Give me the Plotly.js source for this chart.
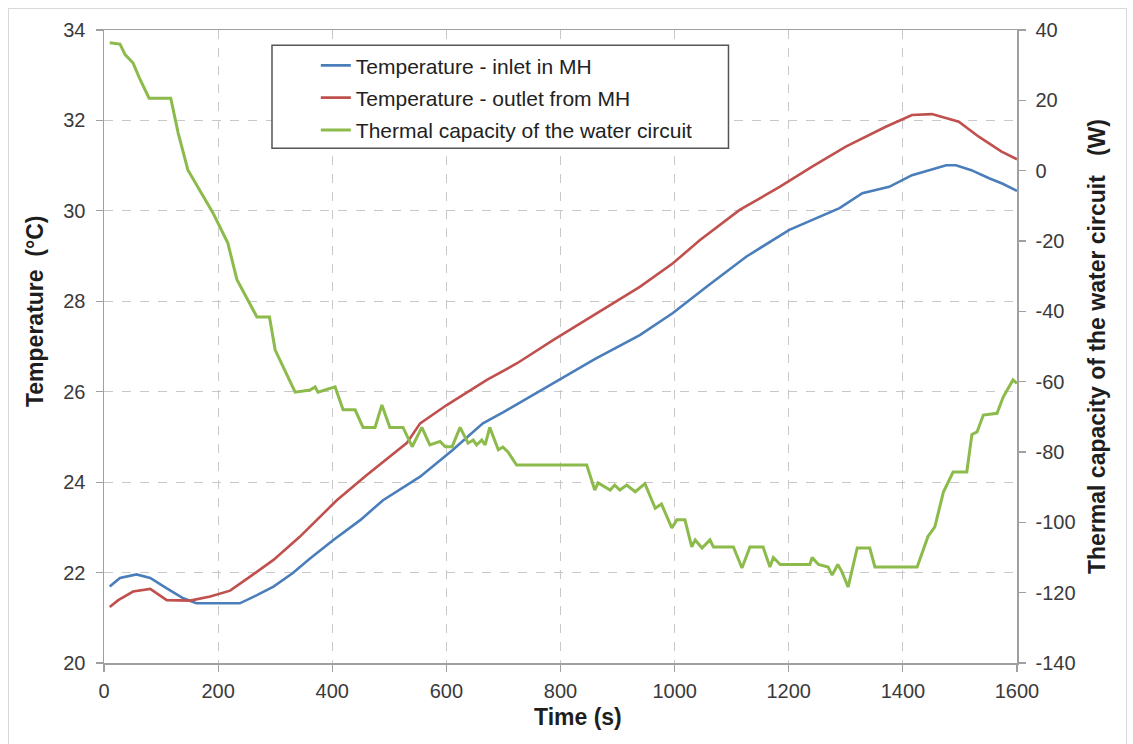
<!DOCTYPE html>
<html>
<head>
<meta charset="utf-8">
<script src="https://cdn.plot.ly/plotly-3.0.1.min.js"></script>
<style>
  html, body { margin: 0; padding: 0; background: #ffffff; }
  #wrap { position: relative; width: 1133px; height: 744px; }
  #chart { width: 1133px; height: 744px; }
  #frame { position: absolute; left: 8px; top: 8px; width: 1117px; height: 735px;
           border: 1px solid #d9d9d9; border-bottom: none; pointer-events: none; }
</style>
</head>
<body>
<div id="wrap"><div id="chart"></div><div id="frame"></div></div>
<script>
// Temperature - inlet in MH (°C)
const inletTime = [10, 28, 57, 81, 110, 139, 162, 200, 238, 268, 297, 331, 360, 402, 449, 489, 554, 610, 664, 700, 787, 860, 939, 997, 1056, 1126, 1201, 1289, 1329, 1376, 1416, 1450, 1476, 1493, 1520, 1551, 1575, 1600];
const inletTemp = [21.69, 21.88, 21.96, 21.88, 21.65, 21.43, 21.32, 21.32, 21.32, 21.5, 21.69, 21.99, 22.3, 22.72, 23.16, 23.6, 24.12, 24.7, 25.3, 25.55, 26.19, 26.72, 27.25, 27.74, 28.32, 28.99, 29.58, 30.06, 30.39, 30.53, 30.79, 30.92, 31.01, 31.01, 30.9, 30.72, 30.6, 30.44];

// Temperature - outlet from MH (°C)
const outletTime = [10, 25, 51, 81, 110, 151, 186, 221, 256, 297, 343, 379, 408, 460, 531, 554, 600, 671, 724, 787, 860, 939, 997, 1044, 1114, 1184, 1241, 1300, 1370, 1416, 1451, 1498, 1533, 1573, 1600];
const outletTemp = [21.24, 21.39, 21.58, 21.64, 21.39, 21.38, 21.47, 21.6, 21.91, 22.28, 22.79, 23.25, 23.6, 24.15, 24.87, 25.3, 25.7, 26.26, 26.63, 27.14, 27.7, 28.32, 28.84, 29.35, 30.02, 30.53, 30.98, 31.42, 31.86, 32.12, 32.14, 31.97, 31.64, 31.31, 31.14];

// Thermal capacity of the water circuit (W)
const capTime = [10, 28, 37, 51, 63, 79, 117, 130, 147, 168, 191, 217, 233, 268, 290, 300, 317, 335, 361, 370, 375, 405, 419, 440, 454, 475, 487, 501, 524, 540, 557, 571, 589, 598, 610, 624, 638, 647, 653, 662, 668, 676, 691, 699, 708, 723, 846, 860, 866, 887, 895, 904, 916, 931, 948, 966, 977, 995, 1004, 1018, 1030, 1036, 1048, 1062, 1068, 1103, 1118, 1132, 1155, 1167, 1173, 1185, 1237, 1241, 1252, 1269, 1276, 1286, 1293, 1304, 1320, 1342, 1351, 1425, 1444, 1456, 1471, 1488, 1512, 1521, 1530, 1541, 1565, 1576, 1593, 1600];
const capPower = [36.4, 36, 33, 30.6, 26, 20.6, 20.6, 10.7, 0.2, -5.5, -12, -20.6, -31, -41.6, -41.6, -51, -56.7, -63, -62.4, -61.5, -63, -61.5, -68, -68, -73, -73, -66.6, -73, -73, -78.5, -73, -78, -77, -78.5, -78.5, -73, -77.5, -76.6, -78, -76.6, -78, -73, -79.4, -78.6, -80, -83.7, -83.7, -90.8, -88.8, -90.8, -89.4, -90.8, -89.4, -91.3, -89, -96, -94.8, -101.6, -99.3, -99.3, -107, -105, -107.3, -105, -107, -107, -113, -107, -107, -112.7, -110, -112, -112, -110, -112, -112.7, -115, -112, -114, -118.4, -107.3, -107.3, -112.7, -112.7, -104, -101.3, -91.4, -85.7, -85.7, -75, -74.3, -69.5, -69, -64.3, -59.5, -60.5];

// Tick values
const xTicks = [0, 200, 400, 600, 800, 1000, 1200, 1400, 1600];
const yTicks = [20, 22, 24, 26, 28, 30, 32, 34];
const y2Ticks = [-140, -120, -100, -80, -60, -40, -20, 0, 20, 40];

const seriesNames = ["Temperature - inlet in MH", "Temperature - outlet from MH", "Thermal capacity of the water circuit"];
const xTitle = "Time (s)";
const yTitle = "Temperature  (°C)";
const y2Title = "Thermal capacity of the water circuit   (W)";

const FONT = "Liberation Sans, Arial, sans-serif";

const traces = [
  { x: inletTime, y: inletTemp, name: seriesNames[0], type: "scatter", mode: "lines",
    line: { color: "#4a7ebb", width: 2.6 }, legendgroup: "a", yaxis: "y" },
  { x: outletTime, y: outletTemp, name: seriesNames[1], type: "scatter", mode: "lines",
    line: { color: "#c0504d", width: 2.6 }, legendgroup: "b", yaxis: "y" },
  { x: capTime, y: capPower, name: seriesNames[2], type: "scatter", mode: "lines",
    line: { color: "#8cbb4c", width: 3 }, legendgroup: "c", yaxis: "y2" }
];

const axisCommon = {
  showline: true, linecolor: "#a0a0a0", linewidth: 1.5,
  ticks: "outside", ticklen: 7, tickcolor: "#a0a0a0", tickwidth: 1.2,
  tickfont: { family: FONT, size: 20, color: "#3a3a3a" },
  zeroline: false, tickmode: "array"
};
const titleFont = { family: FONT, size: 23, color: "#1e1e1e", weight: "bold" };

const layout = {
  width: 1133, height: 744,
  paper_bgcolor: "rgba(0,0,0,0)", plot_bgcolor: "#ffffff",
  margin: { l: 104, r: 116, t: 30, b: 81 },
  showlegend: true,
  legend: {
    x: 0.232, y: 0.976, xanchor: "left", yanchor: "top",
    bgcolor: "rgba(0,0,0,0)", borderwidth: 0,
    font: { family: FONT, size: 21, color: "#222222" },
    tracegroupgap: 2, itemwidth: 30
  },
  xaxis: Object.assign({}, axisCommon, {
    range: [0, 1600], tickvals: xTicks, ticktext: xTicks.map(String), mirror: true,
    showgrid: true, gridcolor: "#c8c8c8", griddash: "dash", gridwidth: 1,
    ticklabelstandoff: 2
  }),
  yaxis: Object.assign({}, axisCommon, {
    range: [20, 34], tickvals: yTicks, ticktext: yTicks.map(String),
    showgrid: true, gridcolor: "#c8c8c8", griddash: "dash", gridwidth: 1,
    ticklabelstandoff: 6
  }),
  yaxis2: Object.assign({}, axisCommon, {
    range: [-140, 40], tickvals: y2Ticks, ticktext: y2Ticks.map(String),
    overlaying: "y", side: "right", showgrid: false,
    ticklabelstandoff: 6,
    title: { text: y2Title, font: titleFont, standoff: 14 }
  }),
  annotations: [
    { text: xTitle, xref: "paper", yref: "paper", x: 0.519, y: -0.085,
      xanchor: "center", yanchor: "middle", showarrow: false, font: titleFont },
    { text: yTitle, xref: "paper", yref: "paper", x: -0.0756, y: 0.556, textangle: -90,
      xanchor: "center", yanchor: "middle", showarrow: false, font: titleFont }
  ],
  shapes: [
    { type: "rect", xref: "paper", yref: "paper", x0: 0.184, x1: 0.684, y0: 0.813, y1: 0.976,
      fillcolor: "#ffffff", line: { color: "#555555", width: 1.5 }, layer: "above" }
  ]
};

Plotly.newPlot("chart", traces, layout, { displayModeBar: false, staticPlot: true });
</script>
</body>
</html>
